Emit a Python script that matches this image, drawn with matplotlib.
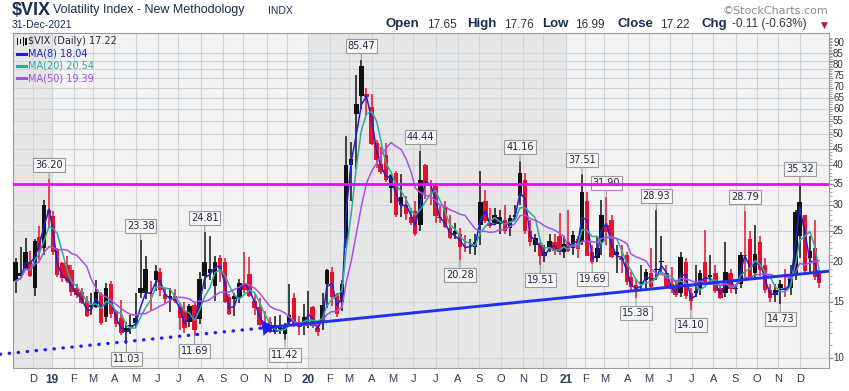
import numpy as np
import pandas as pd
import matplotlib
matplotlib.use('Agg')
import matplotlib.pyplot as plt
from matplotlib.patches import Rectangle
from matplotlib.ticker import FixedLocator, NullFormatter

W, H = 849, 391

# weekly OHLC of $VIX (week starting Monday)
o18 = [19.9, 18.5, 19.0, 20.0, 16.5, 23.9, 22.0, 29.0, 27.8]
h18 = [20.5, 22.3, 23.8, 21.6, 23.6, 25.9, 31.2, 36.2, 28.8]
l18 = [16.0, 18.0, 19.0, 17.9, 15.6, 20.3, 21.0, 25.6, 21.0]
c18 = [17.4, 18.1, 21.5, 18.1, 23.2, 21.6, 30.1, 28.3, 21.4]

o19 = [21.9, 19.8, 19.5, 18.9, 16.6, 16.1, 15.1, 14.4, 14.4, 15.9, 13.4, 17.0, 14.0,
       13.3, 12.4, 12.6, 13.3, 16.5, 19.0, 16.0, 17.5, 18.6, 15.8, 15.6, 15.6, 14.4,
       14.0, 13.0, 14.6, 13.2, 20.0, 19.0, 16.8, 20.6, 20.0, 15.5, 15.6, 15.4, 16.3,
       18.3, 15.1, 14.4, 12.9, 13.0, 12.7, 12.6, 11.9, 13.0, 15.4, 13.0, 12.6, 14.0]
h19 = [22.0, 20.0, 20.8, 19.5, 17.0, 16.6, 15.6, 16.0, 17.5, 16.1, 17.2, 17.4, 14.1,
       15.2, 13.0, 13.6, 16.0, 23.38, 20.8, 17.4, 19.5, 19.1, 16.5, 16.5, 16.4, 14.9,
       15.0, 14.8, 14.9, 18.6, 24.81, 24.0, 20.8, 21.0, 20.5, 15.9, 16.0, 17.6, 21.5,
       20.7, 15.7, 15.4, 14.0, 13.4, 13.5, 13.6, 12.9, 17.0, 16.0, 13.5, 14.8, 16.2]
l19 = [17.9, 17.3, 17.2, 15.6, 15.4, 14.8, 13.4, 13.6, 14.3, 12.7, 13.0, 13.3, 12.5,
       11.8, 11.03, 11.9, 12.5, 15.4, 15.3, 14.0, 16.2, 15.6, 14.9, 13.9, 14.9, 12.2,
       12.0, 12.5, 11.69, 12.8, 16.4, 17.5, 15.1, 17.3, 14.9, 13.6, 13.5, 14.9, 16.0,
       15.5, 13.6, 12.6, 12.1, 12.0, 11.9, 11.9, 11.42, 12.7, 12.5, 11.8, 11.8, 12.4]
c19 = [18.2, 17.8, 17.4, 16.1, 15.7, 14.9, 13.5, 14.6, 16.1, 12.9, 16.5, 13.7, 12.8,
       12.0, 12.1, 12.7, 12.9, 16.0, 16.0, 15.9, 18.7, 16.3, 15.3, 15.4, 15.1, 13.3,
       12.4, 14.5, 12.2, 17.6, 18.0, 18.5, 19.9, 19.0, 15.0, 13.7, 15.3, 17.2, 17.0,
       15.6, 14.3, 12.7, 12.3, 12.1, 12.1, 12.3, 12.6, 13.6, 12.6, 12.5, 13.4, 14.0]

o20 = [14.4, 12.4, 13.0, 17.0, 18.6, 15.7, 15.0, 23.5, 40.0, 62.0, 82.0, 67.0, 61.0,
       47.0, 40.5, 43.0, 34.0, 38.0, 30.0, 30.0, 26.5, 28.8, 26.0, 40.0, 34.5, 34.6,
       27.5, 29.5, 25.5, 25.0, 24.5, 22.0, 22.5, 22.3, 26.0, 31.0, 26.5, 28.0, 26.3,
       27.0, 25.5, 28.0, 32.0, 36.0, 25.0, 22.5, 22.5, 21.5, 22.0, 23.0, 24.0, 21.5]
h20 = [14.5, 13.0, 16.0, 19.0, 19.2, 16.0, 17.5, 49.5, 47.2, 76.8, 85.47, 70.0, 66.8,
       47.9, 45.6, 47.0, 37.5, 38.5, 37.5, 32.0, 29.5, 31.0, 44.44, 40.3, 36.0, 35.3,
       29.8, 31.0, 28.0, 26.5, 25.5, 24.3, 23.5, 24.5, 38.3, 33.5, 29.5, 29.5, 29.0,
       30.0, 28.0, 30.0, 41.16, 38.0, 27.0, 24.5, 23.0, 22.5, 24.5, 24.5, 28.5, 24.0]
l20 = [12.4, 11.75, 12.2, 14.3, 14.5, 13.4, 14.0, 22.0, 31.0, 39.0, 60.0, 57.0, 46.2,
       39.2, 37.5, 35.5, 30.5, 27.5, 27.5, 27.0, 26.0, 24.0, 25.0, 31.5, 30.0, 26.5,
       26.5, 25.5, 23.5, 23.5, 20.28, 21.5, 21.2, 21.0, 22.5, 26.5, 25.5, 26.0, 24.5,
       24.5, 24.0, 27.0, 30.0, 24.5, 22.4, 21.5, 19.51, 20.0, 21.5, 21.0, 21.0, 20.5]
c20 = [12.6, 12.1, 14.6, 18.8, 15.5, 13.7, 17.1, 40.1, 41.9, 57.8, 66.0, 65.5, 46.8,
       41.7, 38.2, 35.9, 37.2, 28.0, 31.9, 28.2, 27.5, 24.5, 36.1, 35.1, 34.7, 27.7,
       27.3, 25.7, 23.7, 24.5, 22.2, 22.1, 22.5, 23.0, 30.8, 26.9, 25.8, 26.4, 27.6,
       25.0, 27.4, 27.6, 38.0, 24.9, 23.1, 23.7, 20.8, 20.8, 23.3, 21.6, 21.5, 22.75]

o21 = [23.0, 22.0, 23.5, 23.0, 31.0, 21.5, 20.5, 23.0, 26.0, 27.0, 21.5, 20.5, 21.0,
       17.9, 16.9, 17.0, 17.5, 18.5, 19.0, 20.0, 18.5, 17.0, 16.5, 16.0, 20.0, 16.0,
       16.0, 16.5, 20.0, 17.9, 18.5, 16.5, 16.0, 18.5, 16.5, 17.0, 21.0, 23.5, 18.5,
       23.0, 19.5, 16.3, 15.7, 17.0, 16.5, 16.6, 18.0, 24.0, 28.0, 20.5, 22.0, 18.5]
h21 = [29.0, 25.0, 24.0, 37.51, 33.0, 22.5, 24.0, 31.2, 31.9, 28.0, 22.5, 22.5, 21.5,
       18.6, 17.5, 19.5, 19.0, 22.0, 28.93, 24.0, 19.5, 19.2, 17.5, 21.5, 20.6, 16.5,
       19.5, 18.8, 25.1, 21.0, 19.5, 16.9, 23.0, 19.0, 17.0, 21.4, 28.79, 25.0, 26.0,
       24.0, 20.5, 17.0, 17.0, 17.5, 19.0, 19.5, 29.0, 35.32, 28.0, 24.0, 27.0, 18.8]
l21 = [21.5, 21.0, 20.6, 22.5, 20.8, 19.69, 20.0, 21.0, 22.5, 20.5, 18.5, 18.5, 16.9,
       16.3, 15.38, 16.2, 16.5, 16.5, 17.5, 18.5, 16.5, 16.0, 15.5, 15.5, 15.3, 14.10,
       15.5, 15.7, 17.0, 17.0, 16.0, 15.3, 15.5, 16.0, 15.8, 16.5, 17.5, 17.5, 17.5,
       18.0, 16.0, 15.0, 15.0, 14.73, 15.5, 15.7, 17.5, 20.5, 18.5, 18.5, 17.5, 16.6]
c21 = [21.6, 24.3, 21.9, 33.1, 20.9, 20.0, 22.1, 28.0, 24.7, 20.7, 21.0, 20.3, 17.3,
       16.7, 16.25, 17.3, 18.6, 16.7, 18.8, 20.15, 16.8, 16.4, 15.7, 20.7, 15.6, 15.1,
       16.2, 18.45, 17.2, 18.2, 16.2, 15.45, 18.6, 16.4, 16.4, 20.95, 20.8, 17.75, 21.15,
       18.8, 16.3, 15.4, 16.3, 16.5, 16.3, 17.9, 28.6, 30.7, 18.7, 21.6, 17.95, 17.22]

# labelled highs / lows (week of the extreme)
hi_weeks = ['2018-12-24', '2019-05-06', '2019-08-05', '2020-03-16', '2020-06-08', '2020-10-26',
            '2021-01-25', '2021-03-01', '2021-05-10', '2021-09-13', '2021-11-29']
hi_vals = [36.20, 23.38, 24.81, 85.47, 44.44, 41.16, 37.51, 31.90, 28.93, 28.79, 35.32]
lo_weeks = ['2019-04-15', '2019-07-22', '2019-11-25', '2020-08-03', '2020-11-23',
            '2021-02-08', '2021-04-12', '2021-06-28', '2021-11-01']
lo_vals = [11.03, 11.69, 11.42, 20.28, 19.51, 19.69, 15.38, 14.10, 14.73]

# hand-drawn trend line (dotted part, then solid part)
trend_dates = ['2018-10-17', '2019-10-28', '2022-01-12']
trend_vals = [10.28, 12.42, 18.69]

yticks = [10, 15, 20, 25, 30, 35, 40, 45, 50, 55, 60, 65, 70, 75, 80, 85, 90]
resistance = 35

holidays = ['2018-11-22', '2018-12-05', '2018-12-25',
            '2019-01-01', '2019-01-21', '2019-02-18', '2019-04-19', '2019-05-27',
            '2019-07-04', '2019-09-02', '2019-11-28', '2019-12-25',
            '2020-01-01', '2020-01-20', '2020-02-17', '2020-04-10', '2020-05-25',
            '2020-07-03', '2020-09-07', '2020-11-26', '2020-12-25',
            '2021-01-01', '2021-01-18', '2021-02-15', '2021-04-02', '2021-05-31',
            '2021-07-05', '2021-09-06', '2021-11-25', '2021-12-24']
start = '2018-11-05'


def tday(d):
    d = np.array(pd.to_datetime(d).strftime('%Y-%m-%d'), dtype='datetime64[D]')
    return np.busday_count(np.datetime64(start), d, holidays=holidays).astype(float)


o = np.array(o18 + o19 + o20 + o21)
h = np.array(h18 + h19 + h20 + h21)
l = np.array(l18 + l19 + l20 + l21)
c = np.array(c18 + c19 + c20 + c21)
weeks = pd.date_range('2018-11-05', '2021-12-27', freq='W-MON')
x = tday(weeks) + 2

AX_TOP, AX_BOT = 33, 368
YLO, YHI = 9.31, 103.7

fig = plt.figure(figsize=(W / 100, H / 100), dpi=100)
ax = fig.add_axes([13 / W, 1 - AX_BOT / H, 816 / W, (AX_BOT - AX_TOP) / H])
ax.set_facecolor('#f3f3f3')
ax.set_yscale('log')
xmax = tday('2022-01-11')[()] + 0.8
ax.set_xlim(-0.5, xmax)
ax.set_ylim(YLO, YHI)

# alternate year shading
ax.axvspan(-1, tday('2019-01-02')[()], color='#e6e6e6', lw=0, zorder=0)
ax.axvspan(tday('2020-01-02')[()], tday('2021-01-04')[()], color='#e6e6e6', lw=0, zorder=0)

# month ticks
mstarts = pd.date_range('2018-12-01', '2021-12-01', freq='MS')
mpos = [np.busday_offset(np.datetime64(m.strftime('%Y-%m-%d')), 0, roll='forward', holidays=holidays)
        for m in mstarts]
mpos = [float(np.busday_count(np.datetime64(start), p, holidays=holidays)) for p in mpos]
mlabels = [m.strftime('%y') if m.month == 1 else m.strftime('%b')[0] for m in mstarts]
ax.set_xticks(mpos)
ax.set_xticklabels(mlabels)
for t, m in zip(ax.get_xticklabels(), mstarts):
    if m.month == 1:
        t.set_fontweight('bold')
        t.set_fontsize(8.5)
    else:
        t.set_fontsize(8)
    t.set_color('#2b3d5c')
    t.set_family('Liberation Sans')
ax.tick_params(axis='x', length=0, pad=4)

ax.yaxis.tick_right()
ax.set_yticks(yticks)
ax.yaxis.set_major_formatter(NullFormatter())
ax.yaxis.set_minor_locator(FixedLocator(list(range(10, 101))))
ax.yaxis.set_minor_formatter(NullFormatter())
ax.tick_params(axis='y', which='major', length=3, color='#888888')
ax.tick_params(axis='y', which='minor', length=1.8, color='#999999')
ax.grid(True, which='major', color='#cdd4de', lw=0.8, zorder=0.5)
ax.set_axisbelow(True)
for s in ax.spines.values():
    s.set_color('#9a9a9a')
    s.set_linewidth(0.8)

# right-hand price labels, pushed apart where they crowd (as on the original)
span = np.log10(YHI) - np.log10(YLO)
ypx = [AX_TOP + (np.log10(YHI) - np.log10(v)) / span * (AX_BOT - AX_TOP) for v in yticks]
for i in range(1, len(ypx)):
    ypx[i] = min(ypx[i], ypx[i - 1] - 11)
for v, py in zip(yticks, ypx):
    fig.text(833 / W, 1 - py / H, str(v), fontsize=7, color='#333333', va='center',
             family='Liberation Sans')

# candles
up = np.r_[True, c[1:] >= c[:-1]]
cols = np.where(up, '#111111', '#e8102a')
ax.vlines(x, l, h, colors=cols, lw=1.1, zorder=3)
bot = np.minimum(o, c)
top = np.maximum(o, c)
ax.bar(x, top - bot, bottom=bot, width=4.4, color=cols, lw=0, zorder=3)

# moving averages (8/20/50 days ~ 2/4/10 weeks)
cs = pd.Series(c)
ax.plot(x, cs.rolling(2, min_periods=1).mean(), color='#2020d0', lw=1.1, zorder=4)
ax.plot(x, cs.rolling(4, min_periods=1).mean(), color='#2fab9c', lw=1.1, zorder=4)
ax.plot(x, cs.rolling(10, min_periods=1).mean(), color='#a552e6', lw=1.1, zorder=4)

# trend line
tx = tday(trend_dates)
ax.plot(tx[:2], trend_vals[:2], ls=(0, (0.1, 2.6)), lw=2.4, color='#1c1cff',
        dash_capstyle='round', clip_on=False, zorder=5)
ax.plot(tx[1:], trend_vals[1:], lw=2.1, color='#2030ee', zorder=5)
tip = tday('2019-11-19')[()]
tip_v = 10 ** np.interp(tip, tx, np.log10(trend_vals))
ax.annotate('', xy=(tip, tip_v), xytext=(tx[1], trend_vals[1]),
            arrowprops=dict(arrowstyle='wedge,tail_width=1.15,shrink_factor=0.3',
                            fc='#1c1cff', ec='#1c1cff', lw=0, shrinkA=0, shrinkB=0), zorder=5)

ax.axhline(resistance, color='#ff00ff', lw=2.0, zorder=7)

# value labels
box = dict(boxstyle='square,pad=0.2', fc='#f7f7f7', ec='#9a9a9a', lw=0.8)
arr = dict(arrowstyle='-', color='#9a9a9a', lw=0.8, shrinkA=0, shrinkB=0)
for d, v in zip(hi_weeks, hi_vals):
    ax.annotate(f'{v:.2f}', xy=(tday(d)[()] + 2, v), xytext=(0, 14), textcoords='offset pixels',
                ha='center', va='center', fontsize=7, color='#1a2a40', bbox=box,
                arrowprops=arr, zorder=6)
for d, v in zip(lo_weeks, lo_vals):
    ax.annotate(f'{v:.2f}', xy=(tday(d)[()] + 2, v), xytext=(0, -15), textcoords='offset pixels',
                ha='center', va='center', fontsize=7, color='#1a2a40', bbox=box,
                arrowprops=arr, zorder=6)


def ftext(px, py, s, **kw):
    return fig.text(px / W, 1 - py / H, s, va='center', **kw)


# header
navy = '#1b2d4f'
ftext(12, 10.5, '$VIX', fontsize=13, fontweight='bold', color=navy, family='Liberation Sans')
ftext(53, 10.5, 'Volatility Index - New Methodology', fontsize=9, color=navy, family='Liberation Sans')
ftext(268, 11, 'INDX', fontsize=7.5, color=navy, family='Liberation Sans')
ftext(12, 25, '31-Dec-2021', fontsize=7.5, color=navy, family='Liberation Sans')
ftext(828, 11, '\u00a9StockCharts.com', fontsize=8, color='#8a8a8a', ha='right')

hdr = [('Open', True, 386), ('17.65', False, 427), ('High', True, 467), ('17.76', False, 504),
       ('Low', True, 542), ('16.99', False, 575), ('Close', True, 617), ('17.22', False, 660),
       ('Chg', True, 702), ('-0.11 (-0.63%)', False, 732)]
for s, b, px in hdr:
    if b:
        ftext(px, 24, s, fontsize=9.5, fontweight='bold', color=navy, family='Liberation Sans')
    else:
        ftext(px, 24.5, s, fontsize=8.5, color='#333333', family='Liberation Sans')
ftext(821, 25, '\u25bc', fontsize=6.5, color='#c8103a')

# legend
leg = [('$VIX (Daily) 17.22', '#2a2a3a', None), ('MA(8) 18.04', '#2424c8', '#2020d0'),
       ('MA(20) 20.54', '#2fa898', '#2fab9c'), ('MA(50) 19.39', '#a050e0', '#a552e6')]
for i, (s, tc, lc) in enumerate(leg):
    py = 41.5 + i * 12.2
    ftext(28, py, s, fontsize=7, color=tc)
    if lc is not None:
        fig.add_artist(plt.Line2D([17 / W, 26 / W], [1 - py / H, 1 - py / H], color=lc, lw=2.2))
for bx, bh in [(16.5, 7), (19.5, 5), (22.5, 8), (25.0, 6)]:
    fig.add_artist(Rectangle((bx / W, 1 - (41.5 + bh / 2) / H), 1.8 / W, bh / H,
                             color='#111111', lw=0))

fig.savefig('out.png', dpi=100)
